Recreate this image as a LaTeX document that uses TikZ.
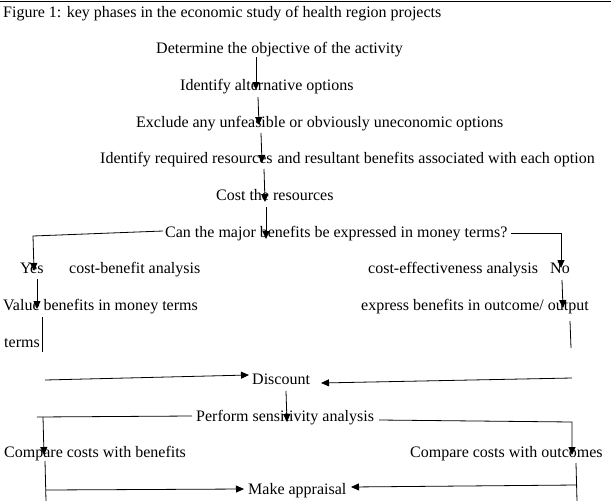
\documentclass[tikz,border=0pt]{standalone}
\usepackage{fontspec}
\setmainfont{Liberation Serif}
\usetikzlibrary{arrows.meta}
\begin{document}
\begin{tikzpicture}[x=1pt,y=-1pt,
  lbl/.style={anchor=base west,inner sep=0pt,font=\fontsize{16}{19}\selectfont},
  arr/.style={line width=0.8pt,-{Triangle[length=8pt,width=7pt]}},
  ln/.style={line width=0.8pt}]
\useasboundingbox (0,0) rectangle (611,501);
% top rule
\coordinate (tl) at (0,1.5); \coordinate (tr) at (611,1.5);
\draw[line width=1.3pt] (tl) -- (tr);
% texts
\node[lbl] (title) at (3,17) {Figure 1: key phases in the economic study of health region projects};
\node[lbl] (n1) at (156,53) {Determine the objective of the activity};
\node[lbl] (n2) at (180,90) {Identify alternative options};
\node[lbl] (n3) at (136,127) {Exclude any unfeasible or obviously uneconomic options};
\node[lbl] (n4) at (100,163) {Identify required resources\hspace{1pt} and resultant benefits associated with each option};
\node[lbl] (n5) at (216,200) {Cost the resources};
\node[lbl] (n6) at (165,237) {Can the major benefits be expressed in money terms?};
\node[lbl] (yes) at (20,273) {Yes};
\node[lbl] (cba) at (69,273) {cost-benefit analysis};
\node[lbl] (cea) at (368,273) {cost-effectiveness analysis};
\node[lbl] (no) at (550,273) {No};
\node[lbl] (vb) at (3,310) {Value benefits in money terms};
\node[lbl] (eb) at (361,310) {express benefits in outcome/ output};
\node[lbl] (terms) at (4,347) {terms};
\node[lbl] (disc) at (252,384) {Discount};
\node[lbl] (psa) at (196,421) {Perform sensitivity analysis};
\node[lbl] (ccb) at (4,457) {Compare costs with benefits};
\node[lbl] (cco) at (410,457) {Compare costs with outcomes};
\node[lbl] (ma) at (248,494) {Make appraisal};
% connector points
\path (256,57) coordinate (a1s) (256,90) coordinate (a1e)
      (258,97) coordinate (a2s) (259,125) coordinate (a2e)
      (261,133) coordinate (a3s) (262,163) coordinate (a3e)
      (264,169) coordinate (a4s) (265,202) coordinate (a4e)
      (266,207) coordinate (a5s) (266,239) coordinate (a5e)
      (163,231) coordinate (yl1) (33,236) coordinate (yl2) (34,271) coordinate (yl3)
      (511,233) coordinate (nl1) (561,233) coordinate (nl2) (561,268) coordinate (nl3)
      (37,279) coordinate (a6s) (37,309) coordinate (a6e)
      (562,280) coordinate (a7s) (563,308) coordinate (a7e)
      (42,317) coordinate (t1) (42,352) coordinate (t2)
      (570,321) coordinate (r1) (571,348) coordinate (r2)
      (45,380) coordinate (dl1) (249,375) coordinate (dl2)
      (572,378) coordinate (dr1) (321,383) coordinate (dr2)
      (286,391) coordinate (a8s) (287,422) coordinate (a8e)
      (192,416) coordinate (pl1) (37,417) coordinate (pl0) (43,417) coordinate (pl2) (44,455) coordinate (pl3)
      (379,420) coordinate (pr1) (572,422) coordinate (pr2) (572,455) coordinate (pr3)
      (45,461) coordinate (cl1) (46,501) coordinate (cl2)
      (46,490) coordinate (ml1) (244,489) coordinate (ml2)
      (576,463) coordinate (cr1) (577,501) coordinate (cr2)
      (577,485) coordinate (mr1) (351,487) coordinate (mr2);
% connectors
\draw[arr] (a1s) -- (a1e);
\draw[arr] (a2s) -- (a2e);
\draw[arr] (a3s) -- (a3e);
\draw[arr] (a4s) -- (a4e);
\draw[arr] (a5s) -- (a5e);
\draw[arr] (yl1) -- (yl2) -- (yl3);
\draw[arr] (nl1) -- (nl2) -- (nl3);
\draw[arr] (a6s) -- (a6e);
\draw[arr] (a7s) -- (a7e);
\draw[ln] (t1) -- (t2);
\draw[ln] (r1) -- (r2);
\draw[arr] (dl1) -- (dl2);
\draw[arr] (dr1) -- (dr2);
\draw[arr] (a8s) -- (a8e);
\draw[ln] (pl1) -- (pl0);
\draw[arr] (pl2) -- (pl3);
\draw[arr] (pr1) -- (pr2) -- (pr3);
\draw[ln] (cl1) -- (cl2);
\draw[arr] (ml1) -- (ml2);
\draw[ln] (cr1) -- (cr2);
\draw[arr] (mr1) -- (mr2);
\end{tikzpicture}
\end{document}
